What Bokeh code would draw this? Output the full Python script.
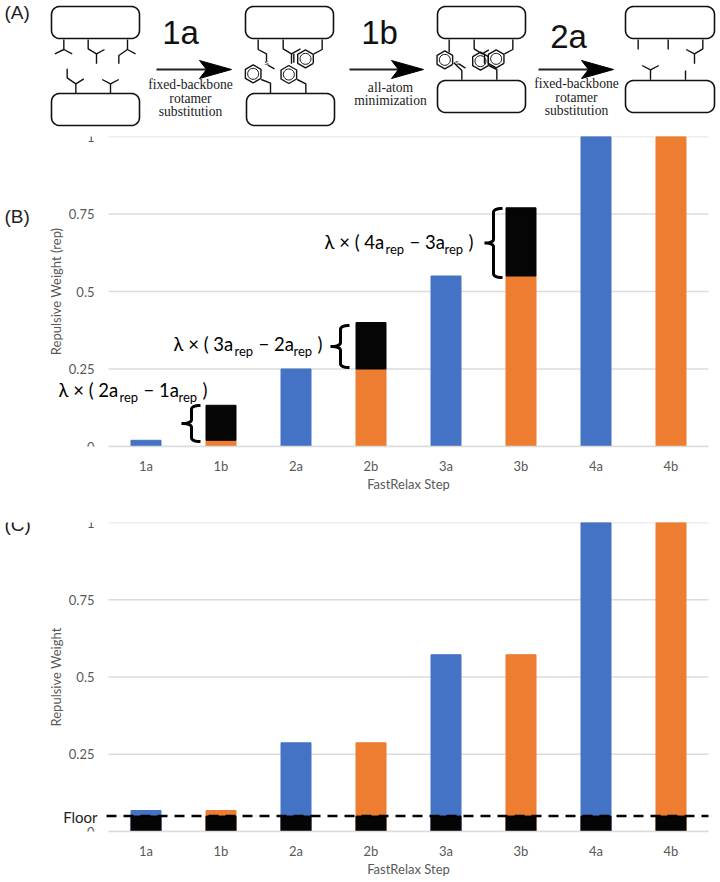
from math import cos, sin, pi
from bokeh.plotting import figure
from bokeh.layouts import column
from bokeh.core.properties import value
from bokeh.models import Range1d, Label, FixedTicker
from bokeh.embed import file_html
from bokeh.resources import INLINE

categories = ["1a", "1b", "2a", "2b", "3a", "3b", "4a", "4b"]
weights_b = [0.02, 0.02, 0.25, 0.25, 0.55, 0.55, 1.0, 1.0]
lambda_tops_b = [None, 0.133, None, 0.40, None, 0.77, None, None]
weights_c = [0.068, 0.068, 0.287, 0.287, 0.572, 0.572, 1.0, 1.0]
floor_c = 0.05
ticks = [0, 0.25, 0.5, 0.75, 1]
tick_labels = ["0", "0.25", "0.5", "0.75", "1"]
BLUE, ORANGE, BLACK, GREY, GRID = "#4472c4", "#ed7d31", "#050505", "#595959", "#dcdcdc"
SANS = "Lato"
positions = [i + 0.5 for i in range(len(categories))]
n = len(categories)
STEP_PX = 75  # one category is 75 px wide; the frame covers the whole width of the page


def lab(p, top, x, y, text, size=18.5, font=SANS, color="black", align="left", panel="center"):
    # text position in canvas pixels
    p.add_layout(Label(x=x, y=y - top, x_units="canvas", y_units="canvas", text=text, text_font=font,
                       text_font_size=f"{size}px", text_color=color, text_align=align,
                       text_baseline="alphabetic"), panel)


def chart(weights, ylabel, y_top_px, y_bot_px, fig_top_px, fig_bot_px):
    p = figure(width=720, height=fig_bot_px - fig_top_px, output_backend="svg", toolbar_location=None,
               x_range=Range1d(-108 / STEP_PX, n + 12 / STEP_PX),
               y_range=Range1d(0, 1), min_border_left=0, min_border_right=0,
               min_border_top=y_top_px - fig_top_px, min_border_bottom=fig_bot_px - y_bot_px,
               outline_line_color=None, background_fill_color="white", border_fill_color=None)
    p.extra_x_ranges = {"px": Range1d(0, 720)}
    p.extra_y_ranges = {"px": Range1d(y_bot_px, y_top_px)}
    p.grid.visible = False
    p.yaxis.fixed_location = 0
    p.yaxis.ticker = FixedTicker(ticks=ticks)
    p.yaxis.major_label_overrides = dict(zip(ticks, tick_labels))
    p.xaxis.ticker = FixedTicker(ticks=positions)
    p.xaxis.major_label_overrides = dict(zip(positions, categories))
    p.xaxis.bounds = (0, n)
    p.yaxis.axis_line_color = None
    p.yaxis.major_tick_line_color = None
    p.yaxis.minor_tick_line_color = None
    p.xaxis.major_tick_line_color = None
    p.xaxis.minor_tick_line_color = None
    p.xaxis.axis_line_color = GRID
    p.xaxis.axis_line_width = 1.5
    p.yaxis.major_tick_out = 0
    p.xaxis.major_tick_out = 0
    p.yaxis.major_label_standoff = 14
    p.xaxis.major_label_standoff = 11
    p.yaxis.axis_label_standoff = 2
    p.yaxis.axis_label = ylabel
    for ax in (p.xaxis[0], p.yaxis[0]):
        ax.major_label_text_font = SANS
        ax.major_label_text_font_size = "13px"
        ax.major_label_text_color = GREY
        ax.axis_label_text_font = SANS
        ax.axis_label_text_font_size = "13px"
        ax.axis_label_text_font_style = "normal"
        ax.axis_label_text_color = GREY
    p.segment(x0=[0] * len(ticks), x1=[n] * len(ticks), y0=ticks, y1=ticks, color=GRID, line_width=1.5)
    colors = [BLUE if c.endswith("a") else ORANGE for c in categories]
    p.vbar(x=positions, top=weights, width=0.4, color=colors)
    lab(p, fig_top_px, 408, y_bot_px + 37, "FastRelax Step", 13, SANS, GREY, "center", "below")
    return p


def formula(p, top, x0, y, a, b):
    lab(p, top, x0, y, f"λ × ( {a}a")
    lab(p, top, x0 + 61, y + 7, "rep", 13)
    lab(p, top, x0 + 85, y, f"− {b}a")
    lab(p, top, x0 + 120, y + 7, "rep", 13)
    lab(p, top, x0 + 144, y, ")")


def brace(p, tip, spine, end, top, bot):
    mid = (top + bot) / 2
    r = 4
    def q(a, c, b):
        return [((1 - t) ** 2 * a[0] + 2 * t * (1 - t) * c[0] + t * t * b[0],
                 (1 - t) ** 2 * a[1] + 2 * t * (1 - t) * c[1] + t * t * b[1]) for t in [i / 8 for i in range(9)]]
    pts = (q((end, top), (spine, top), (spine, top + r)) + q((spine, mid - r), (spine, mid), (tip, mid)) +
           q((tip, mid), (spine, mid), (spine, mid + r)) + q((spine, bot - r), (spine, bot), (end, bot)))
    p.line([a for a, _ in pts], [b for _, b in pts], x_range_name="px", y_range_name="px", color="black", line_width=3)


# ---------- panel B
pb = chart(weights_b, "Repulsive Weight (rep)", 136, 446, 128, 505)
lam_x = [x for x, t in zip(positions, lambda_tops_b) if t is not None]
lam_top = [t for t in lambda_tops_b if t is not None]
lam_bot = [w for w, t in zip(weights_b, lambda_tops_b) if t is not None]
pb.vbar(x=lam_x, bottom=lam_bot, top=lam_top, width=0.4, color=BLACK)
brace(pb, 181, 191, 200, 405, 441)
brace(pb, 330, 340, 349, 325, 367)
brace(pb, 484, 493, 502, 208, 277)
formula(pb, 128, 58, 389, 2, 1)
formula(pb, 128, 173, 343, 3, 2)
formula(pb, 128, 324, 241, 4, 3)
lab(pb, 128, 4, 216, "(B)", 19, "Liberation Sans", "#222222")

# ---------- panel C
pc = chart(weights_c, "Repulsive Weight", 522, 831, 505, 882)
pc.vbar(x=positions, top=[floor_c] * n, width=0.4, color=BLACK)
pc.line(x=[-2 / STEP_PX, n], y=[floor_c, floor_c], color="black", line_width=2.5, line_dash="10 7")
lab(pc, 505, 97, 816, "Floor", 15, SANS, "#222222", "right")
lab(pc, 505, 4, 524, "(C)", 19, "Liberation Sans", "#222222")

# ---------- panel A: schematic
pa = figure(width=720, height=128, output_backend="svg", toolbar_location=None,
            x_range=Range1d(0, 720), y_range=Range1d(128, 0), min_border=0,
            outline_line_color=None, border_fill_color=None, frame_align=False)
pa.axis.visible = False
pa.grid.visible = False
boxes = [(51, 139, 6, 38), (51, 139, 93, 125), (245, 333, 6, 38), (246, 334, 93, 125),
         (437, 525, 6, 38), (437, 525, 80, 112), (625, 714, 6, 38), (625, 714, 80, 112)]
r = 8
for x0, x1, y0, y1 in boxes:
    xs, ys = [x0 + r, x1 - r], [y0, y0]
    for cx, cy, s in [(x1 - r, y0 + r, -90), (x1 - r, y1 - r, 0), (x0 + r, y1 - r, 90), (x0 + r, y0 + r, 180)]:
        for i in range(9):
            a = (s + i * 90 / 8) * pi / 180
            xs.append(cx + r * cos(a))
            ys.append(cy + r * sin(a))
    xs.append(x0 + r)
    ys.append(y0)
    pa.line(xs, ys, color="#111111", line_width=1.6)

# bonds given in 3x zoomed coordinates of each half of the panel
left_bonds = [
    [(190, 117), (190, 147), (163, 160)], [(190, 147), (215, 160)],
    [(263, 117), (263, 145), (288, 160), (312, 147)], [(288, 160), (288, 190)],
    [(381, 117), (381, 147), (355, 165), (355, 190)], [(381, 147), (405, 160)],
    [(226, 280), (226, 250), (200, 232), (200, 205)], [(226, 250), (250, 235)],
    [(330, 280), (330, 250), (305, 237)], [(330, 250), (355, 237)],
    [(773, 117), (773, 147), (798, 160), (798, 182)], [(802, 194), (822, 205)],
    [(848, 117), (848, 145), (873, 160), (873, 190)], [(880, 160), (880, 187)], [(873, 160), (900, 145)],
    [(965, 117), (965, 147), (940, 160)],
    [(916, 280), (916, 250), (890, 237)], [(810, 280), (810, 248), (782, 237)],
]
right_bonds = [
    [(266, 117), (266, 155)], [(304, 238), (304, 210), (280, 187)], [(295, 190), (315, 203)],
    [(341, 117), (341, 145), (365, 160), (385, 148)], [(372, 160), (372, 190)],
    [(457, 117), (457, 147), (432, 160)], [(409, 238), (409, 207), (385, 195)],
    [(833, 117), (833, 147)], [(923, 117), (923, 147)],
    [(1027, 117), (1027, 145), (1002, 160), (1002, 190)], [(1002, 160), (977, 147)],
    [(870, 238), (870, 208), (845, 195)], [(870, 208), (895, 195)], [(975, 238), (975, 210)],
]
for bonds, off in ((left_bonds, 0), (right_bonds, 360)):
    for b in bonds:
        pa.line([off + x / 3 for x, _ in b], [y / 3 for _, y in b], color="#111111", line_width=1.4)
rings = [(915 / 3, 175 / 3), (865 / 3, 222 / 3), (758 / 3, 220 / 3),
         (360 + 253 / 3, 178 / 3), (360 + 360 / 3, 182 / 3), (360 + 407 / 3, 175 / 3)]
for cx, cy in rings:
    R = 9
    xs = [cx + R * cos(pi / 6 + i * pi / 3) for i in range(7)]
    ys = [cy + R * sin(pi / 6 + i * pi / 3) for i in range(7)]
    pa.line(xs, ys, color="#111111", line_width=1.4)
    xs = [cx + 5.5 * cos(i * pi / 12) for i in range(25)]
    ys = [cy + 5.5 * sin(i * pi / 12) for i in range(25)]
    pa.line(xs, ys, color="#111111", line_width=1)
pa.text([266, 456.5], [65, 65], text=["S", "S"], text_font_size="6px", text_align="center", text_baseline="bottom")


def arrow(x0, tip):
    pa.line([x0, tip - 20], [69, 69], color="#222222", line_width=1.8)
    pa.patch([tip, tip - 32, tip - 25, tip - 32], [69, 60, 69, 78], color="black")


arrow(156, 231)
arrow(349, 423)
arrow(538, 613)
pa.text([4], [22], text=["(A)"], text_font_size="19px", text_font=value("Liberation Sans"), text_color="#222222")
for x, y, t in [(180, 50, "1a"), (379, 50, "1b"), (568, 54, "2a")]:
    pa.text([x], [y], text=[t], text_font_size="33px", text_font=value("Liberation Sans"), text_align="center",
            text_color="#111111")
for x, y, t in [(190, 91, "fixed-backbone"), (190, 105, "rotamer"), (190, 118, "substitution"),
                (390, 94, "all-atom"), (390, 107, "minimization"),
                (576, 90, "fixed-backbone"), (576, 104, "rotamer"), (576, 117, "substitution")]:
    pa.text([x], [y], text=[t], text_font_size="13.6px", text_font=value("Liberation Serif"), text_align="center",
            text_color="#222222")

page = column(pa, pb, pc, spacing=0, margin=0)
open("out.html", "w").write(file_html(page, INLINE))
